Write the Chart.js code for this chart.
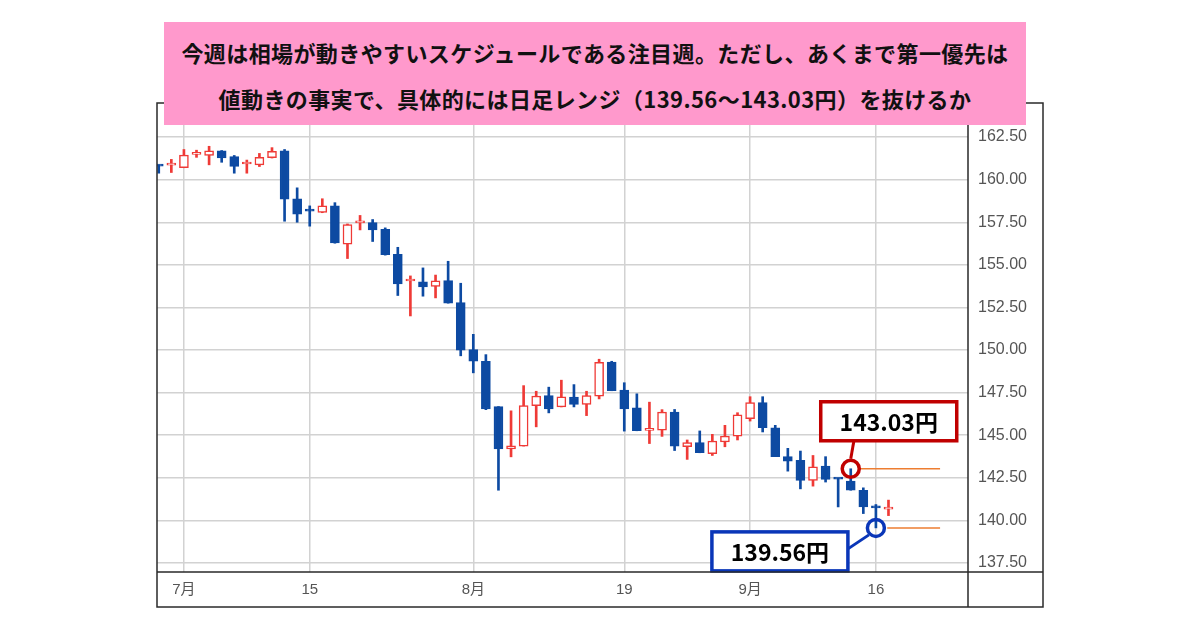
<!DOCTYPE html>
<html>
<head>
<meta charset="utf-8">
<script src="https://cdn.jsdelivr.net/npm/chart.js@4.4.1/dist/chart.umd.min.js"></script>
<style>
html,body{margin:0;padding:0;background:#fff;}
#wrap{position:relative;width:1200px;height:630px;overflow:hidden;}
#c{position:absolute;left:0;top:0;}
#title{position:absolute;left:164px;top:22px;width:862px;height:103px;background:#ff99cc;
  font-family:"Noto Sans CJK JP","Noto Sans",sans-serif;font-weight:bold;font-size:22px;color:#111;
  text-align:center;line-height:46px;padding-top:7px;box-sizing:border-box;letter-spacing:0.4px;white-space:nowrap;}
</style>
</head>
<body>
<div id="wrap">
<canvas id="c" width="1200" height="630"></canvas>
<div id="title">今週は相場が動きやすいスケジュールである注目週。ただし、あくまで第一優先は<br>値動きの事実で、具体的には日足レンジ（139.56～143.03円）を抜けるか</div>
</div>
<script>
// Daily candles (USD/JPY), index 0..58
const opens  = [160.82,160.85,160.71,161.48,161.42,161.69,161.35,160.92,160.87,161.29,
                161.69,158.88,158.18,158.08,158.46,156.21,157.46,157.48,157.09,155.62,
                154.05,154.01,153.73,154.08,152.79,150.02,149.34,146.68,144.20,144.36,
                146.74,147.32,146.66,147.24,146.80,147.29,149.29,147.65,146.60,145.28,
                145.30,146.35,144.32,144.56,143.91,144.60,144.95,145.97,146.91,145.44,
                143.74,143.52,142.34,143.19,142.45,142.30,141.77,140.85,140.66];
const highs  = [160.86,161.19,161.77,161.73,161.96,161.71,161.42,161.15,161.54,161.88,
                161.77,159.52,158.46,158.88,158.65,157.40,157.90,157.66,157.17,156.03,
                154.35,154.82,154.40,155.21,153.92,150.92,149.73,146.68,146.43,147.91,
                147.58,147.82,148.23,147.97,147.58,149.46,149.34,148.08,147.43,146.94,
                146.50,146.51,144.72,145.25,145.05,145.58,146.32,147.26,147.26,145.58,
                144.23,144.07,143.81,143.74,142.47,143.03,141.91,140.93,141.19];
const lows   = [160.38,160.42,160.70,161.31,160.87,161.02,160.38,160.38,160.77,161.27,
                157.56,157.50,157.27,158.06,156.27,155.37,157.05,156.37,155.57,153.20,
                152.00,153.16,153.06,152.75,149.66,148.66,146.50,141.77,143.73,144.36,
                145.49,146.31,146.66,146.66,146.15,147.13,147.61,145.24,145.26,144.51,
                144.93,144.10,143.58,143.97,143.81,144.32,144.72,145.83,145.19,143.74,
                142.89,141.85,142.01,142.25,140.79,141.77,140.40,139.56,140.28];
const closes = [160.79,160.88,161.44,161.52,161.69,161.27,160.77,160.95,161.31,161.67,
                158.85,157.98,158.15,158.46,156.29,157.36,157.50,157.05,155.59,153.88,
                154.09,153.71,154.06,152.75,149.99,149.35,146.54,144.20,144.37,146.74,
                147.30,146.54,147.25,146.80,147.32,149.28,147.61,146.55,145.26,145.32,
                146.35,144.36,144.56,143.97,144.66,144.95,146.19,146.91,145.44,143.74,
                143.48,142.34,143.15,142.40,142.42,141.77,140.79,140.73,140.70];

// x-axis labels (candle index -> text)
const tickIdx  = [2, 12, 25, 37, 47, 57];
const tickText = ['7月', '15', '8月', '19', '9月', '16'];
// y-axis tick values
const yTicks = [137.5, 140, 142.5, 145, 147.5, 150, 152.5, 155, 157.5, 160, 162.5];

// range levels (high / low) and the candles they belong to
const levelValues = [143.03, 139.56];
const levelCandle = [55, 57];
const levelLineStart = [55.7, 57.9];
const levelLineEnd = [62.1, 62.1];

const RED = '#ef3a36';
const BLUE = '#0d4aa2';
const NOTE_RED = '#c00000';
const NOTE_BLUE = '#0a36b8';
const ORANGE = '#ed7d31';

const idx = opens.map((_, i) => i);
const isUp = i => closes[i] >= opens[i];

const wickData = idx.map(i => ({x: i, y: [lows[i], highs[i]]}));
const bodyData = idx.map(i => ({x: i, y: [opens[i], closes[i]]}));

const framePlugin = {
  id: 'frame',
  afterDraw(chart) {
    const {ctx, chartArea: a, scales: {x, y}} = chart;
    const L = a.left, T = a.top, R = y.right, B = x.bottom;
    ctx.save();
    ctx.strokeStyle = '#2a2a2a';
    ctx.lineWidth = 1.5;
    ctx.strokeRect(L, T, R - L, B - T);
    ctx.beginPath();
    ctx.moveTo(a.right, T); ctx.lineTo(a.right, B);
    ctx.moveTo(L, a.bottom); ctx.lineTo(R, a.bottom);
    ctx.stroke();
    ctx.restore();
  }
};

const notes = [
  {color: NOTE_RED,  box: [-30, -67], link: [[3, -27], [0, -10]]},
  {color: NOTE_BLUE, box: [-164, 4],  link: [[-28, 21], [-7, 7]]}
];
const notePlugin = {
  id: 'notes',
  afterDatasetsDraw(chart) {
    const {ctx, scales: {x, y}} = chart;
    notes.forEach((n, k) => {
      const cx = x.getPixelForValue(levelCandle[k]);
      const cy = y.getPixelForValue(levelValues[k]);
      const bx = cx + n.box[0], by = cy + n.box[1], bw = 136, bh = 39;
      ctx.save();
      ctx.strokeStyle = n.color;
      ctx.lineWidth = 3;
      ctx.beginPath();
      ctx.moveTo(cx + n.link[0][0], cy + n.link[0][1]);
      ctx.lineTo(cx + n.link[1][0], cy + n.link[1][1]);
      ctx.stroke();
      ctx.fillStyle = '#fff';
      ctx.fillRect(bx, by, bw, bh);
      ctx.lineWidth = 3.5;
      ctx.strokeRect(bx, by, bw, bh);
      ctx.fillStyle = '#000';
      ctx.font = 'bold 23px "Noto Sans CJK JP", "Noto Sans", sans-serif';
      ctx.textAlign = 'center';
      ctx.textBaseline = 'middle';
      ctx.fillText(levelValues[k].toFixed(2) + '円', bx + bw / 2, by + bh / 2 + 1);
      ctx.restore();
    });
  }
};

const datasets = [
  {
    type: 'bar', label: 'wick', data: wickData, grouped: false, order: 3,
    barThickness: 2, borderWidth: 0,
    backgroundColor: c => isUp(c.dataIndex) ? RED : BLUE
  },
  {
    type: 'bar', label: 'body', data: bodyData, grouped: false, order: 2,
    barThickness: 9, minBarLength: 2, borderWidth: 1.5, borderSkipped: false,
    backgroundColor: c => isUp(c.dataIndex) ? '#ffffff' : BLUE,
    borderColor: c => isUp(c.dataIndex) ? RED : BLUE
  }
];
levelValues.forEach((v, k) => {
  datasets.push({
    type: 'line', label: 'level' + k, order: 1,
    data: [{x: levelLineStart[k], y: v}, {x: levelLineEnd[k], y: v}],
    borderColor: ORANGE, borderWidth: 1.5, pointRadius: 0, fill: false
  });
  datasets.push({
    type: 'line', label: 'mark' + k, order: 0, showLine: false,
    data: [{x: levelCandle[k], y: v}],
    pointRadius: 8.5, pointBorderWidth: 3.5,
    pointBorderColor: k === 0 ? NOTE_RED : NOTE_BLUE,
    pointBackgroundColor: 'rgba(255,255,255,0)'
  });
});

new Chart(document.getElementById('c'), {
  type: 'bar',
  data: {datasets},
  options: {
    responsive: false,
    animation: false,
    devicePixelRatio: 1,
    layout: {padding: {left: 157, top: 103, right: 157, bottom: 23}},
    plugins: {legend: {display: false}, tooltip: {enabled: false}},
    scales: {
      x: {
        type: 'linear', offset: false, min: -0.14, max: 64.32,
        afterBuildTicks: s => { s.ticks = tickIdx.map(v => ({value: v})); },
        afterFit: s => { s.height = 35; },
        ticks: {
          autoSkip: false, maxRotation: 0, padding: 9, color: '#555',
          font: {family: '"Liberation Sans", "Noto Sans CJK JP", sans-serif', size: 15},
          callback: v => { const j = tickIdx.indexOf(v); return j >= 0 ? tickText[j] : ''; }
        },
        grid: {color: '#d2d2d2', lineWidth: 1.5, drawTicks: false, offset: false},
        border: {display: false}
      },
      y: {
        position: 'right', min: 136.97, max: 164.5,
        afterBuildTicks: s => { s.ticks = yTicks.map(v => ({value: v})); },
        afterFit: s => { s.width = 75; },
        ticks: {
          padding: 10, color: '#555',
          font: {family: '"Liberation Sans", sans-serif', size: 16},
          callback: v => Number(v).toFixed(2)
        },
        grid: {color: '#d2d2d2', lineWidth: 1.5, drawTicks: false},
        border: {display: false}
      }
    }
  },
  plugins: [framePlugin, notePlugin]
});
</script>
</body>
</html>
